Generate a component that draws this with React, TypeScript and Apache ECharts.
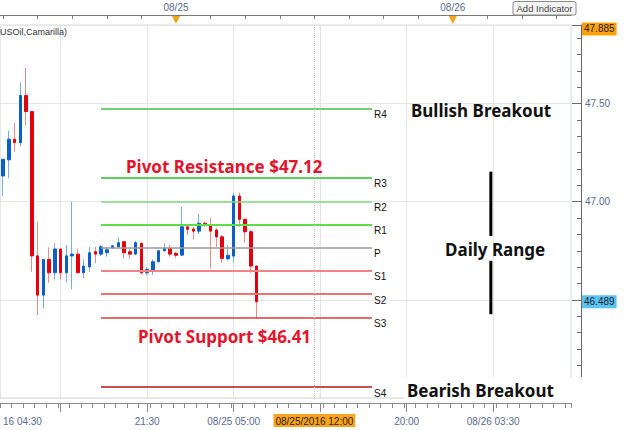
import React, { useEffect, useRef } from 'react';
import * as echarts from 'echarts';

// ---- time slots (30-min candles), category axis ----
const SLOT_COUNT = 99;
const slots: string[] = [];
for (let i = 0; i < SLOT_COUNT; i++) {
  const m = 9 * 60 + i * 30;
  const day = 24 + Math.floor(m / 1440);
  const mm = m % 1440;
  const hh = String(Math.floor(mm / 60)).padStart(2, '0');
  const mi = String(mm % 60).padStart(2, '0');
  slots.push(`08/${day} ${hh}:${mi}`);
}

// ---- candle values (USOil, 30 min) ----
const opens = [47.131, 47.213, 47.318, 47.301, 47.541, 47.459, 46.724, 46.524, 46.706, 46.638, 46.759, 46.638, 46.724, 46.733, 46.638, 46.668, 46.745, 46.733, 46.74, 46.765, 46.77, 46.796, 46.745, 46.733, 46.788, 46.638, 46.652, 46.694, 46.75, 46.762, 46.737, 46.728, 46.872, 46.861, 46.85, 46.89, 46.88, 46.856, 46.821, 46.709, 46.723, 47.029, 46.91, 46.847, 46.672];
const closes = [47.216, 47.318, 47.301, 47.541, 47.459, 46.724, 46.524, 46.706, 46.638, 46.759, 46.638, 46.724, 46.733, 46.638, 46.672, 46.74, 46.733, 46.77, 46.755, 46.775, 46.791, 46.74, 46.733, 46.791, 46.638, 46.655, 46.694, 46.75, 46.762, 46.733, 46.727, 46.872, 46.859, 46.85, 46.89, 46.88, 46.85, 46.821, 46.711, 46.727, 47.029, 46.91, 46.847, 46.672, 46.49];
const lows = [47.029, 47.119, 47.255, 47.281, 47.388, 46.643, 46.422, 46.456, 46.587, 46.604, 46.604, 46.587, 46.553, 46.635, 46.609, 46.643, 46.686, 46.723, 46.72, 46.76, 46.768, 46.711, 46.711, 46.728, 46.63, 46.626, 46.626, 46.69, 46.745, 46.72, 46.711, 46.723, 46.83, 46.808, 46.835, 46.872, 46.66, 46.77, 46.689, 46.702, 46.689, 46.872, 46.791, 46.638, 46.405];
const highs = [47.216, 47.362, 47.4, 47.609, 47.681, 47.459, 46.898, 46.706, 46.767, 46.788, 46.759, 46.779, 47.0, 46.757, 46.706, 46.77, 46.77, 46.779, 46.77, 46.78, 46.818, 46.8, 46.762, 46.8, 46.79, 46.665, 46.706, 46.755, 46.788, 46.78, 46.745, 46.974, 46.881, 46.872, 46.937, 46.898, 46.918, 46.864, 46.83, 46.779, 47.046, 47.046, 46.915, 46.856, 46.677];

// ---- Camarilla pivots ----
const pivotNames = ['R4', 'R3', 'R2', 'R1', 'P', 'S1', 'S2', 'S3', 'S4'];
const pivotValues = [47.475, 47.121, 47.0, 46.883, 46.767, 46.647, 46.529, 46.41, 46.055];
const pivotColors = ['#6fd36f', '#5fcf5f', '#80d980', '#5fdc4a', '#9a9a9a', '#f38383', '#ee7070', '#d93d3d', '#cc4f4f'];
const pivotWidths = [2, 2, 1.5, 2, 1.5, 2, 2, 1.5, 2];
const pivotStartIdx = 17;
const pivotEndIdx = 64;

// ---- axes labels ----
const bottomTickIdx = [0, 25, 40, 70, 85];
const bottomTickText = ['16 04:30', '21:30', '08/25 05:00', '20:00', '08/26 03:30'];
const gridLineIdx = [10, 25, 40, 55, 70, 85];
const topTickIdx = [30, 78];
const topTickText = ['08/25', '08/26'];
const yTickLabels = ['47.00', '47.50'];

// ---- crosshair & price tags ----
const crosshairIdx = 54;
const crosshairLabel = '08/25/2016 12:00';
const tagValues = [47.885, 46.489];
const tagColors = ['#ff9f0a', '#5cc3f7'];

// ---- daily range bar ----
const rangeSlot = 84.6;
const rangeTop = 47.153;
const rangeGapTop = 46.825;
const rangeGapBottom = 46.699;
const rangeBottom = 46.427;

const UP = '#0a5fc8';
const DOWN = '#e4000f';
const UP_WICK = '#78aee6';
const DOWN_WICK = '#f08a8a';
const AXIS_TEXT = '#5a6b8f';

export default function App() {
  const ref = useRef<HTMLDivElement>(null);

  useEffect(() => {
    if (!ref.current) return;
    const chart = echarts.init(ref.current, null, { renderer: 'svg' });

    const ohlc = opens.map((o, i) => [o, closes[i], lows[i], highs[i]]);
    const bodies = opens.map((o, i) => [o, closes[i], Math.min(o, closes[i]), Math.max(o, closes[i])]);

    const pivotLines = pivotNames.map((n, k) => [
      {
        coord: [slots[pivotStartIdx], pivotValues[k]],
        lineStyle: { color: pivotColors[k], width: pivotWidths[k], type: 'solid' },
        label: {
          show: true,
          position: 'end',
          formatter: '{gap|}\n{t|' + n + '}',
          distance: 2,
          rich: {
            gap: { height: 12, lineHeight: 12, fontSize: 10 },
            t: { color: '#111', fontSize: 10, lineHeight: 12, fontFamily: 'Liberation Sans' },
          },
        },
      },
      { coord: [slots[pivotEndIdx], pivotValues[k]] },
    ]);

    const tagLines = tagValues.map((v, k) => ({
      yAxis: v,
      lineStyle: { color: 'rgba(0,0,0,0)', width: 1, opacity: 1 },
      label: {
        show: true,
        position: 'end',
        formatter: v.toFixed(3),
        backgroundColor: tagColors[k],
        color: '#222',
        opacity: 1,
        fontSize: 10,
        fontFamily: 'Liberation Sans',
        padding: [2, 2, 1, 2],
        distance: 11,
      },
    }));

    const crosshair = {
      xAxis: slots[crosshairIdx],
      lineStyle: { color: '#c6c6c6', type: 'dotted', width: 1 },
      label: {
        show: true,
        position: 'start',
        formatter: crosshairLabel,
        backgroundColor: '#ffa31a',
        color: '#222',
        fontSize: 10,
        fontFamily: 'Liberation Sans',
        padding: [2, 2, 1, 2],
        distance: 16,
      },
    };

    const option: any = {
      animation: false,
      grid: {
        left: -1,
        right: 53,
        top: 25,
        bottom: 32,
        show: true,
        borderColor: '#d3d9e2',
        borderWidth: 1,
        backgroundColor: 'transparent',
      },
      xAxis: [
        {
          type: 'category',
          data: slots,
          position: 'bottom',
          offset: 5,
          boundaryGap: true,
          axisLine: { show: true, lineStyle: { color: '#8c8c8c' } },
          axisTick: {
            show: true,
            alignWithLabel: true,
            interval: (i: number) => i % 15 === 10,
            length: 9,
            lineStyle: { color: '#8c8c8c' },
          },
          axisLabel: {
            show: true,
            interval: (i: number) => bottomTickIdx.includes(i),
            formatter: (_v: string, i: number) => {
              const k = bottomTickIdx.indexOf(i);
              return k >= 0 ? bottomTickText[k] : '';
            },
            color: AXIS_TEXT,
            fontSize: 10,
            fontFamily: 'Liberation Sans',
            margin: 13,
            alignMinLabel: 'left',
            hideOverlap: false,
          },
          splitLine: { show: false },
        },
        {
          type: 'category',
          data: slots,
          position: 'bottom',
          offset: 5,
          boundaryGap: true,
          axisLine: { show: false },
          axisTick: { show: true, interval: 1, length: 5, lineStyle: { color: '#8c8c8c' } },
          axisLabel: { show: false },
          splitLine: { show: false },
        },
        {
          type: 'category',
          data: slots,
          position: 'top',
          offset: 10,
          boundaryGap: true,
          axisLine: { show: true, lineStyle: { color: '#7a7a7a' } },
          axisTick: {
            show: true,
            inside: true,
            alignWithLabel: true,
            interval: (i: number) => i % 6 === 0,
            length: 4,
            lineStyle: { color: '#7a7a7a' },
          },
          axisLabel: {
            show: true,
            interval: (i: number) => topTickIdx.includes(i),
            formatter: (_v: string, i: number) => {
              const k = topTickIdx.indexOf(i);
              return k >= 0 ? topTickText[k] : '';
            },
            color: AXIS_TEXT,
            fontSize: 10,
            fontFamily: 'Liberation Sans',
            margin: 3,
          },
          splitLine: { show: false },
        },
      ],
      yAxis: {
        type: 'value',
        position: 'right',
        offset: 10,
        min: 46,
        max: 47.9,
        interval: 0.5,
        axisLine: { show: true, lineStyle: { color: '#6a6a6a' } },
        axisTick: { show: true, inside: true, length: 9, lineStyle: { color: '#6a6a6a' } },
        minorTick: { show: true, splitNumber: 6, length: 4, lineStyle: { color: '#6a6a6a' } },
        splitLine: { show: true, lineStyle: { color: '#e6e6e6' } },
        minorSplitLine: { show: false },
        axisLabel: {
          formatter: (v: number) => {
            const s = v.toFixed(2);
            return yTickLabels.includes(s) ? s : '';
          },
          color: AXIS_TEXT,
          fontSize: 10,
          fontFamily: 'Liberation Sans',
          margin: 4,
        },
      },
      series: [
        {
          name: 'wick',
          type: 'candlestick',
          xAxisIndex: 0,
          yAxisIndex: 0,
          data: ohlc,
          barWidth: 1,
          z: 2,
          itemStyle: {
            color: UP_WICK,
            color0: DOWN_WICK,
            borderColor: UP_WICK,
            borderColor0: DOWN_WICK,
            borderWidth: 1,
          },
          markLine: {
            silent: true,
            symbol: ['none', 'none'],
            z: 1,
            label: { show: false },
            lineStyle: { color: '#e4e4e4', width: 1, type: 'solid' },
            data: gridLineIdx.map((i) => ({ xAxis: slots[i] })),
          },
        },
        {
          name: 'body',
          type: 'candlestick',
          xAxisIndex: 0,
          yAxisIndex: 0,
          data: bodies,
          barWidth: 3,
          z: 3,
          clip: false,
          itemStyle: {
            color: UP,
            color0: DOWN,
            borderColor: UP,
            borderColor0: DOWN,
            borderWidth: 1,
          },
          markLine: {
            silent: true,
            symbol: ['none', 'none'],
            data: [...pivotLines, crosshair],
          },
        },
        {
          name: 'tags',
          type: 'line',
          xAxisIndex: 0,
          yAxisIndex: 0,
          data: [],
          clip: false,
          z: 5,
          markLine: {
            silent: true,
            symbol: ['none', 'none'],
            data: tagLines,
          },
        },
      ],
    };

    chart.setOption(option);

    const px = (idx: number, val: number): number[] => {
      const a = idx | 0;
      const f = idx - a;
      const p0 = chart.convertToPixel({ xAxisIndex: 0, yAxisIndex: 0 }, [slots[a], val]) as number[];
      if (f === 0) return p0;
      const p1 = chart.convertToPixel({ xAxisIndex: 0, yAxisIndex: 0 }, [slots[a + 1], val]) as number[];
      return [p0[0] + f * (p1[0] - p0[0]), p0[1]];
    };

    const rTop = px(rangeSlot, rangeTop);
    const rGapTop = px(rangeSlot, rangeGapTop);
    const rGapBottom = px(rangeSlot, rangeGapBottom);
    const rBottom = px(rangeSlot, rangeBottom);

    const annFont = '"Noto Sans", "Open Sans", sans-serif';
    const text = (t: string, x: number, y: number, fill: string, size = 17, weight = 'bold') => ({
      type: 'text',
      x,
      y,
      z: 101,
      style: {
        text: t,
        fill,
        fontSize: size,
        fontWeight: weight,
        fontFamily: annFont,
        align: 'left',
        verticalAlign: 'middle',
        textAlign: 'left',
        textVerticalAlign: 'middle',
      },
    });

    const triangles = topTickIdx.map((i) => {
      const x = px(i, 47.9)[0];
      return {
        type: 'polygon',
        z: 101,
        shape: { points: [[x - 4, 16], [x + 4, 16], [x, 24]] },
        style: { fill: '#f7a21b' },
      };
    });

    const tagBoxes = tagValues.map((v, k) => {
      const y = px(0, v)[1];
      return [
        {
          type: 'rect',
          z: 102,
          shape: { x: 582, y: y - 6, width: 32, height: 12 },
          style: { fill: tagColors[k] },
        },
        {
          type: 'text',
          x: 583.5,
          y: y + 0.5,
          z: 103,
          style: {
            text: v.toFixed(3),
            fill: '#222',
            fontSize: 10,
            fontFamily: 'Liberation Sans',
            align: 'left',
            verticalAlign: 'middle',
            textAlign: 'left',
            textVerticalAlign: 'middle',
          },
        },
      ];
    });

    chart.setOption({
      graphic: [
        {
          type: 'rect',
          z: 100,
          shape: { x: 404, y: 377, width: 180, height: 24 },
          style: { fill: '#ffffff' },
        },
        text('Bullish Breakout', 411, 110.5, '#111'),
        text('Pivot Resistance $47.12', 126, 166.5, '#e5132b'),
        text('Daily Range', 445, 249.5, '#111'),
        text('Pivot Support $46.41', 138, 336.7, '#e5132b'),
        text('Bearish Breakout', 407, 390.5, '#111'),
        {
          type: 'line',
          z: 101,
          shape: { x1: rTop[0], y1: rTop[1], x2: rGapTop[0], y2: rGapTop[1] },
          style: { stroke: '#000', lineWidth: 3 },
        },
        {
          type: 'line',
          z: 101,
          shape: { x1: rGapBottom[0], y1: rGapBottom[1], x2: rBottom[0], y2: rBottom[1] },
          style: { stroke: '#000', lineWidth: 3 },
        },
        ...triangles,
        {
          type: 'text',
          x: 0,
          y: 31.5,
          z: 101,
          style: {
            text: 'USOil,Camarilla)',
            fill: '#333',
            fontSize: 9,
            fontFamily: 'Liberation Sans',
            align: 'left',
            verticalAlign: 'middle',
            textAlign: 'left',
            textVerticalAlign: 'middle',
          },
        },
        {
          type: 'rect',
          z: 101,
          shape: { x: 513, y: 1.5, width: 63, height: 13.5, r: 2 },
          style: { fill: '#f4f4f4', stroke: '#8a8a8a', lineWidth: 1 },
        },
        {
          type: 'text',
          x: 544.5,
          y: 8.5,
          z: 102,
          style: {
            text: 'Add Indicator',
            fill: '#444',
            fontSize: 9.5,
            fontFamily: 'Liberation Sans',
            align: 'center',
            verticalAlign: 'middle',
            textAlign: 'center',
            textVerticalAlign: 'middle',
          },
        },
      ],
    });

    // price tags: use graphic only if markLine labels did not render
    const svg = ref.current.querySelector('svg');
    const hasTag = svg && Array.from(svg.querySelectorAll('text')).some((t) => t.textContent === tagValues[0].toFixed(3));
    if (!hasTag) {
      chart.setOption({ graphic: tagBoxes.flat().map((g, i) => ({ ...g, id: 'tag' + i })) });
    }

    return () => {
      chart.dispose();
    };
  }, []);

  return (
    <div
      ref={ref}
      style={{ position: 'fixed', left: 0, top: 0, width: 624, height: 430, background: '#fff' }}
    />
  );
}
